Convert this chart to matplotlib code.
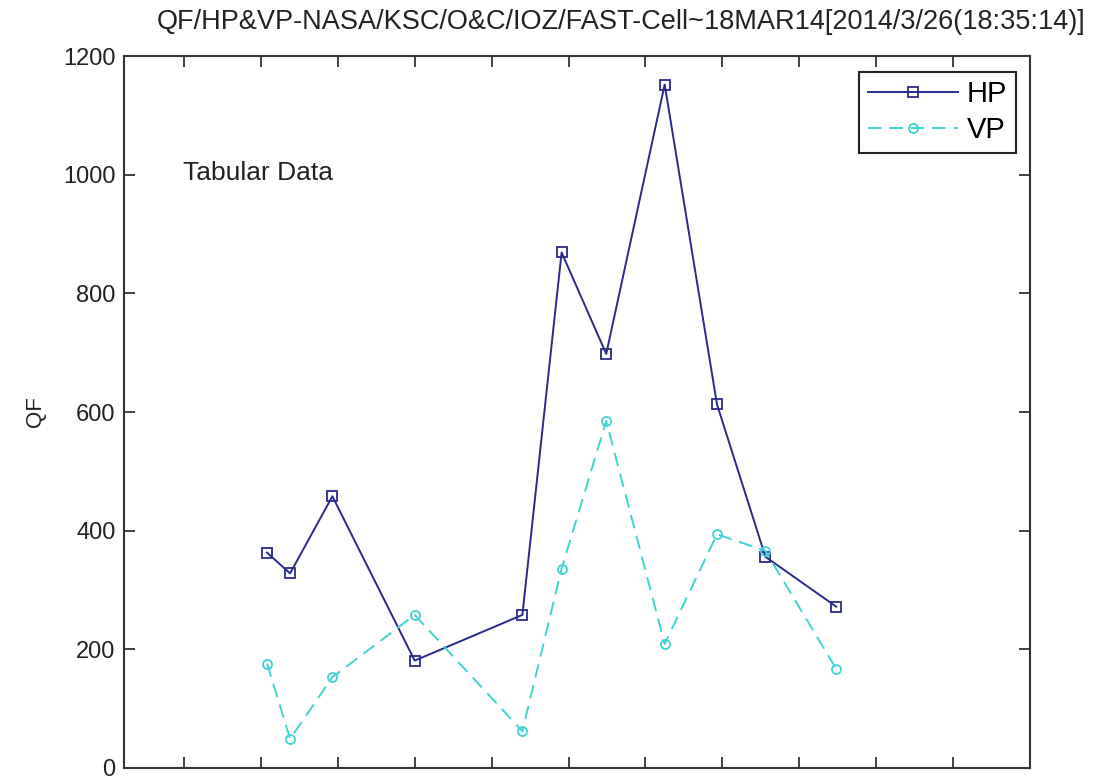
import matplotlib
matplotlib.use('Agg')
import matplotlib.pyplot as plt
import numpy as np

plt.rcParams['font.family'] = ['Liberation Sans', 'DejaVu Sans']

# ---- data ----
x_pos = [2.08, 2.38, 2.93, 4.00, 5.40, 5.91, 6.49, 7.25, 7.93, 8.56, 9.48]
hp = [363, 328, 458, 181, 258, 869, 698, 1152, 613, 356, 272]
vp = [176, 49, 153, 258, 62, 336, 585, 209, 394, 366, 167]
x_ticks = list(range(1, 13))
y_ticks = [0, 200, 400, 600, 800, 1000, 1200]
title = 'QF/HP&VP-NASA/KSC/O&C/IOZ/FAST-Cell~18MAR14[2014/3/26(18:35:14)]'

#======================================================
fig = plt.figure(figsize=(10.93, 7.80), dpi=100)
ax = fig.add_axes([0.1134, 0.0154, 0.8290, 0.9127])

ax.plot(x_pos, hp, color='#2a2a8c', linewidth=1.4, marker='s', markersize=6.5,
        markerfacecolor='none', markeredgewidth=1.3, label='HP')
ax.plot(x_pos, vp, color='#3fd3d3', linewidth=1.4, linestyle=(0, (7, 4)),
        marker='o', markersize=6.5, markerfacecolor='none', markeredgewidth=1.3,
        label='VP')

ax.set_xlim(0.22, 12)
ax.set_ylim(0, 1200)
ax.set_xticks(x_ticks)
ax.set_xticklabels([])
ax.set_yticks(y_ticks)
ax.tick_params(direction='in', length=8, width=1.2, top=True, right=True,
               labelsize=17, colors='#222222', pad=6)
for s in ax.spines.values():
    s.set_linewidth(1.5)
    s.set_color('#333333')

ax.set_ylabel('QF', fontsize=16, color='#222222', labelpad=12)
ax.text(0.065, 0.836, 'Tabular Data', transform=ax.transAxes, fontsize=19,
        color='#222222', va='center')

fig.text(0.568, 0.972, title, fontsize=19.5, color='#222222',
         ha='center', va='center')

leg = ax.legend(loc='upper right', fontsize=21, handlelength=3.1,
                fancybox=False, framealpha=1, edgecolor='#222222',
                borderpad=0.3, labelspacing=0.25, handletextpad=0.3,
                borderaxespad=0, bbox_to_anchor=(0.9845, 0.978))
leg.get_frame().set_linewidth(1.5)

fig.savefig('out.png', dpi=100)
